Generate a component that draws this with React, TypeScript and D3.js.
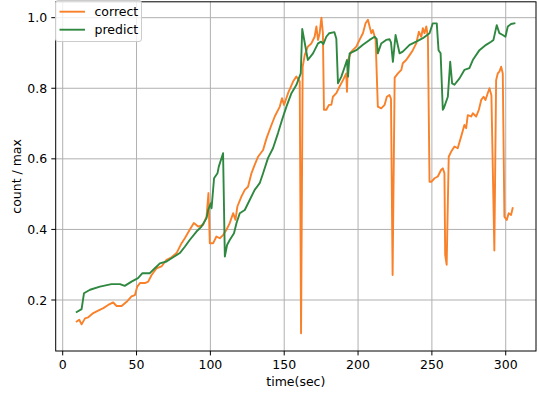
import React from "react";
import * as d3 from "d3";

const correctT = [9.5, 11.2, 12.8, 15.1, 17.3, 20.7, 24, 27.5, 30.8, 34.2, 36.5, 39.9, 43.3, 46.6, 48.9, 50.5, 52.3, 55.7, 57.9, 60.2, 63.6, 66.9, 70.3, 73.7, 77.1, 80.5, 82.7, 86, 88.8, 91.7, 95.1, 97.4, 98.7, 99.6, 101.9, 104.1, 106.4, 108.6, 110.9, 113.1, 115.4, 117, 118.3, 121, 123.3, 125.5, 127.8, 130, 132.3, 135.7, 138, 140.9, 143.6, 147, 148.5, 149.9, 152.6, 156, 158.2, 160.5, 161.4, 162.5, 163.9, 166, 168.4, 170.6, 171.8, 172.9, 174, 175.2, 176.2, 176.9, 178.5, 180.3, 181.9, 183, 185.3, 187.5, 189.8, 192, 192.5, 193.2, 195.4, 198.8, 201, 203.3, 205.1, 206.7, 207.8, 209, 210, 211.9, 213.4, 215.7, 218, 219.5, 221.3, 222.3, 223.4, 224.8, 227, 229.3, 230.3, 232.6, 234.9, 237.1, 239.4, 241.2, 242.8, 243.9, 245, 246.2, 247.3, 248.4, 249.6, 251.8, 254, 256.3, 257.4, 258.5, 259, 260, 261.4, 263, 265.3, 267.5, 269.8, 272, 273.2, 274.3, 276.6, 277.7, 280, 281.8, 283.4, 285, 286.3, 287.8, 289, 290.3, 292.3, 293.5, 294.6, 295.7, 296.9, 298, 299.1, 300.7, 302, 303.6, 304.7];
const correctV = [0.139, 0.144, 0.131, 0.148, 0.151, 0.163, 0.17, 0.177, 0.186, 0.193, 0.183, 0.183, 0.195, 0.21, 0.214, 0.238, 0.248, 0.248, 0.252, 0.271, 0.29, 0.295, 0.314, 0.321, 0.333, 0.361, 0.375, 0.399, 0.418, 0.408, 0.413, 0.436, 0.503, 0.361, 0.361, 0.38, 0.375, 0.384, 0.399, 0.418, 0.446, 0.427, 0.465, 0.493, 0.512, 0.521, 0.559, 0.583, 0.606, 0.625, 0.658, 0.691, 0.72, 0.748, 0.772, 0.753, 0.786, 0.819, 0.833, 0.82, 0.106, 0.861, 0.894, 0.918, 0.927, 0.946, 0.975, 0.937, 0.956, 1.0, 0.956, 0.739, 0.739, 0.753, 0.753, 0.776, 0.786, 0.805, 0.823, 0.842, 0.79, 0.88, 0.904, 0.918, 0.937, 0.956, 0.984, 0.994, 0.975, 0.956, 0.965, 0.937, 0.748, 0.743, 0.753, 0.776, 0.781, 0.77, 0.271, 0.83, 0.842, 0.852, 0.871, 0.88, 0.894, 0.908, 0.927, 0.96, 0.946, 0.97, 0.956, 0.975, 0.946, 0.535, 0.535, 0.545, 0.55, 0.569, 0.573, 0.559, 0.328, 0.3, 0.606, 0.62, 0.635, 0.63, 0.663, 0.696, 0.687, 0.724, 0.72, 0.729, 0.72, 0.739, 0.767, 0.776, 0.767, 0.786, 0.8, 0.78, 0.34, 0.823, 0.842, 0.847, 0.861, 0.842, 0.436, 0.427, 0.446, 0.441, 0.46];

const predictT = [9.5, 12.8, 14.4, 18.5, 25.2, 33, 38.8, 42, 46.6, 51, 54, 59, 62.4, 65.8, 70.3, 74.8, 79.3, 82.7, 86, 90.6, 94, 97.4, 98.5, 100.3, 100.8, 102.5, 104.8, 105.7, 108.6, 109.8, 111.3, 113.1, 116, 117.7, 119.9, 123.3, 126.7, 130, 133.4, 135.7, 139, 142.4, 145.8, 148.5, 151.5, 154.9, 158.2, 161.2, 162.2, 166, 169.5, 172.9, 175, 176.5, 178.5, 180.5, 184, 185.3, 186.4, 188.7, 191, 192.5, 193.2, 194.3, 198.8, 203.3, 207.8, 211.2, 212.6, 213.4, 215.7, 219, 221.3, 222.3, 223.6, 225.4, 228.1, 230.3, 234.9, 239.4, 243.9, 248.4, 250.6, 253.3, 254.5, 255.9, 257.4, 258.2, 260.8, 262.4, 263.7, 265.3, 268.7, 272, 275.4, 277.7, 282.2, 286.7, 290.1, 291.7, 293.9, 295.7, 298, 299.8, 301.4, 303.6, 305.9];
const predictV = [0.166, 0.174, 0.219, 0.229, 0.238, 0.245, 0.245, 0.24, 0.252, 0.262, 0.276, 0.276, 0.29, 0.304, 0.309, 0.321, 0.333, 0.351, 0.37, 0.394, 0.408, 0.432, 0.455, 0.474, 0.46, 0.545, 0.559, 0.578, 0.616, 0.323, 0.356, 0.37, 0.389, 0.418, 0.446, 0.455, 0.484, 0.512, 0.531, 0.559, 0.602, 0.63, 0.673, 0.71, 0.748, 0.786, 0.809, 0.842, 0.968, 0.88, 0.899, 0.927, 0.932, 0.925, 0.946, 0.956, 0.959, 0.94, 0.814, 0.833, 0.861, 0.88, 0.833, 0.899, 0.908, 0.923, 0.937, 0.946, 0.94, 0.899, 0.927, 0.937, 0.939, 0.93, 0.875, 0.951, 0.899, 0.904, 0.923, 0.932, 0.942, 0.956, 0.984, 0.984, 0.908, 0.899, 0.739, 0.745, 0.776, 0.875, 0.814, 0.81, 0.828, 0.852, 0.857, 0.88, 0.908, 0.923, 0.932, 0.937, 0.979, 0.956, 0.951, 0.946, 0.975, 0.982, 0.984];

const xTicks = [0, 50, 100, 150, 200, 250, 300];
const yTicks = [0.2, 0.4, 0.6, 0.8, 1.0];
const seriesNames = ["correct", "predict"];
const seriesColors = ["#f9812a", "#2f8840"];

const W = 539;
const H = 398;
const left = 55.7;
const right = 536;
const top = 1.8;
const bottom = 351;
const FONT = "DejaVu Sans, sans-serif";
const FS = 12.5;

export default function App() {
  const x = d3.scaleLinear().domain([-4.74, 320.5]).range([left, right]);
  const y = d3.scaleLinear().domain([0.0555, 1.045]).range([bottom, top]);
  const line = d3
    .line<[number, number]>()
    .x((d) => x(d[0]))
    .y((d) => y(d[1]));
  const correct: [number, number][] = correctT.map((t, i) => [t, correctV[i]]);
  const predict: [number, number][] = predictT.map((t, i) => [t, predictV[i]]);
  const series = [correct, predict];

  return (
    <svg
      width={W}
      height={H}
      style={{ position: "absolute", left: 0, top: 0, background: "#fff" }}
      fontFamily={FONT}
    >
      <defs>
        <clipPath id="plot">
          <rect x={left} y={top} width={right - left} height={bottom - top} />
        </clipPath>
      </defs>
      <rect x={0} y={0} width={W} height={H} fill="#fff" />
      {xTicks.map((t) => (
        <line key={"gx" + t} x1={x(t)} x2={x(t)} y1={top} y2={bottom} stroke="#b0b0b0" strokeWidth={1} />
      ))}
      {yTicks.map((t) => (
        <line key={"gy" + t} x1={left} x2={right} y1={y(t)} y2={y(t)} stroke="#b0b0b0" strokeWidth={1} />
      ))}
      <g clipPath="url(#plot)">
        {series.map((s, i) => (
          <path
            key={seriesNames[i]}
            d={line(s) || ""}
            fill="none"
            stroke={seriesColors[i]}
            strokeWidth={1.9}
            strokeLinejoin="round"
            strokeLinecap="square"
          />
        ))}
      </g>
      <rect x={left} y={top} width={right - left} height={bottom - top} fill="none" stroke="#000" strokeWidth={1} />
      {xTicks.map((t) => (
        <g key={"tx" + t}>
          <line x1={x(t)} x2={x(t)} y1={bottom} y2={bottom + 4.4} stroke="#000" strokeWidth={1} />
          <text x={x(t)} y={368.8} textAnchor="middle" fontSize={FS} fill="#000">
            {t}
          </text>
        </g>
      ))}
      {yTicks.map((t) => (
        <g key={"ty" + t}>
          <line x1={left - 4.4} x2={left} y1={y(t)} y2={y(t)} stroke="#000" strokeWidth={1} />
          <text x={left - 8.6} y={y(t) + 4.6} textAnchor="end" fontSize={FS} fill="#000">
            {t.toFixed(1)}
          </text>
        </g>
      ))}
      <text x={(left + right) / 2} y={385.5} textAnchor="middle" fontSize={FS} fill="#000">
        time(sec)
      </text>
      <text
        transform={`translate(21.2, ${(top + bottom) / 2}) rotate(-90)`}
        textAnchor="middle"
        fontSize={FS}
        fill="#000"
      >
        count / max
      </text>
      <g>
        <rect x={55.5} y={0.5} width={86} height={41} rx={2.5} fill="#fff" fillOpacity={0.8} stroke="#cccccc" strokeWidth={1} />
        {seriesNames.map((n, i) => (
          <g key={"lg" + n}>
            <line x1={59.5} x2={85} y1={11.7 + i * 18} y2={11.7 + i * 18} stroke={seriesColors[i]} strokeWidth={1.9} />
            <text x={94.5} y={16 + i * 18} fontSize={FS} fill="#000">
              {n}
            </text>
          </g>
        ))}
      </g>
    </svg>
  );
}
